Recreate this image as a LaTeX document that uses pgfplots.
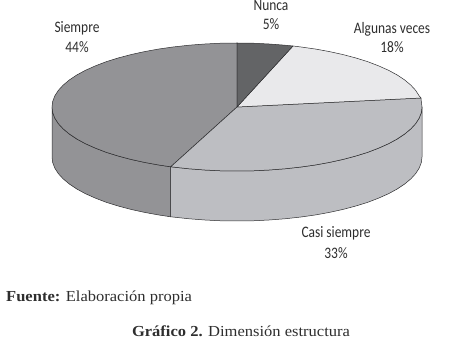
\documentclass[border=0pt]{standalone}
\usepackage{pgfplots}
\pgfplotsset{compat=1.18}
\usepackage{fontspec}
\setmainfont[FakeStretch=1.08]{Liberation Serif}
\newfontfamily\lab[FakeStretch=0.84]{Carlito}
\definecolor{siempre}{HTML}{939396}
\definecolor{casi}{HTML}{BDBEC2}
\definecolor{algunas}{HTML}{E9E9EB}
\definecolor{nunca}{HTML}{636466}
\definecolor{edge}{HTML}{2E2E30}
\begin{document}
\begin{tikzpicture}
\useasboundingbox (0,0) rectangle (450pt,344pt);
\begin{axis}[at={(0,0)},anchor=south west,scale only axis,width=450pt,height=344pt,
  xmin=0,xmax=450,ymin=0,ymax=344,y dir=reverse,axis lines=none,clip=false,
  every axis plot/.append style={line width=0.5pt,draw=edge,line join=round,mark=none}]
% side, Siempre 44%
\addplot[fill=siempre] coordinates {(52,107)(52.7,112.6)(54.8,118.1)(58.3,123.6)(63.2,128.9)(69.3,134.0)(76.8,139.0)(85.4,143.7)(95.3,148.1)(106.2,152.3)(118.1,156.0)(130.9,159.4)(144.5,162.4)(158.8,165.0)(170.7,166.8)
(170.7,216.8)(158.8,215.0)(144.5,212.4)(130.9,209.4)(118.1,206.0)(106.2,202.3)(95.3,198.1)(85.4,193.7)(76.8,189.0)(69.3,184.0)(63.2,178.9)(58.3,173.6)(54.8,168.1)(52.7,162.6)(52,157)} --cycle;
% side, Casi siempre 33%
\addplot[fill=casi] coordinates {(170.7,166.8)(189.1,168.8)(204.9,170.0)(220.9,170.8)(237,171)(253.1,170.8)(269.1,170.0)(284.9,168.8)(300.3,167.1)(315.2,165.0)(329.5,162.4)(343.1,159.4)(355.9,156.0)(367.8,152.3)(378.7,148.1)(388.6,143.7)(397.2,139.0)(404.7,134.0)(410.8,128.9)(415.7,123.6)(419.2,118.1)(421.3,112.6)(422,107)
(422,157)(421.3,162.6)(419.2,168.1)(415.7,173.6)(410.8,178.9)(404.7,184.0)(397.2,189.0)(388.6,193.7)(378.7,198.1)(367.8,202.3)(355.9,206.0)(343.1,209.4)(329.5,212.4)(315.2,215.0)(300.3,217.1)(284.9,218.8)(269.1,220.0)(253.1,220.8)(237,221)(220.9,220.8)(204.9,220.0)(189.1,218.8)(170.7,216.8)} --cycle;
% top, Siempre 44%
\addplot[fill=siempre] coordinates {(237,107)(237,43)(220.9,43.2)(204.9,44.0)(189.1,45.2)(173.7,46.9)(158.8,49.0)(144.5,51.6)(130.9,54.6)(118.1,58.0)(106.2,61.7)(95.3,65.9)(85.4,70.3)(76.8,75.0)(69.3,80.0)(63.2,85.1)(58.3,90.4)(54.8,95.9)(52.7,101.4)(52,107)(52.7,112.6)(54.8,118.1)(58.3,123.6)(63.2,128.9)(69.3,134.0)(76.8,139.0)(85.4,143.7)(95.3,148.1)(106.2,152.3)(118.1,156.0)(130.9,159.4)(144.5,162.4)(158.8,165.0)(170.7,166.8)} --cycle;
% top, Casi siempre 33%
\addplot[fill=casi] coordinates {(237,107)(170.7,166.8)(189.1,168.8)(204.9,170.0)(220.9,170.8)(237,171)(253.1,170.8)(269.1,170.0)(284.9,168.8)(300.3,167.1)(315.2,165.0)(329.5,162.4)(343.1,159.4)(355.9,156.0)(367.8,152.3)(378.7,148.1)(388.6,143.7)(397.2,139.0)(404.7,134.0)(410.8,128.9)(415.7,123.6)(419.2,118.1)(421.3,112.6)(422,107)(421.3,101.4)(421,98)} --cycle;
% top, Algunas veces 18%
\addplot[fill=algunas] coordinates {(237,107)(421,98)(419.2,95.9)(415.7,90.4)(410.8,85.1)(404.7,80.0)(397.2,75.0)(388.6,70.3)(378.7,65.9)(367.8,61.7)(355.9,58.0)(343.1,54.6)(329.5,51.6)(315.2,49.0)(300.3,46.9)(293,46)} --cycle;
% top, Nunca 5%
\addplot[fill=nunca] coordinates {(237,107)(293,46)(284.9,45.2)(269.1,44.0)(253.1,43.2)(237,43)} --cycle;
\begin{scope}[text=black!82]
\node[anchor=base,inner sep=0pt,font=\lab\fontsize{16}{20}\selectfont] at (axis cs:77,33) {Siempre};
\node[anchor=base,inner sep=0pt,font=\lab\fontsize{16}{20}\selectfont] at (axis cs:77,53) {44\%};
\node[anchor=base,inner sep=0pt,font=\lab\fontsize{16}{20}\selectfont] at (axis cs:271,11) {Nunca};
\node[anchor=base,inner sep=0pt,font=\lab\fontsize{16}{20}\selectfont] at (axis cs:271,30) {5\%};
\node[anchor=base,inner sep=0pt,font=\lab\fontsize{16}{20}\selectfont] at (axis cs:392,34) {Algunas veces};
\node[anchor=base,inner sep=0pt,font=\lab\fontsize{16}{20}\selectfont] at (axis cs:392,53) {18\%};
\node[anchor=base,inner sep=0pt,font=\lab\fontsize{16}{20}\selectfont] at (axis cs:336,238) {Casi siempre};
\node[anchor=base,inner sep=0pt,font=\lab\fontsize{16}{20}\selectfont] at (axis cs:336,259) {33\%};
\node[anchor=base west,inner sep=0pt,font=\fontsize{15.3}{18}\selectfont] at (axis cs:6,301.5) {\textbf{Fuente:} Elaboración propia};
\node[anchor=base,inner sep=0pt,font=\fontsize{15.3}{18}\selectfont] at (axis cs:241,337) {\textbf{Gráfico 2.} Dimensión estructura};
\end{scope}
\end{axis}
\end{tikzpicture}
\end{document}
